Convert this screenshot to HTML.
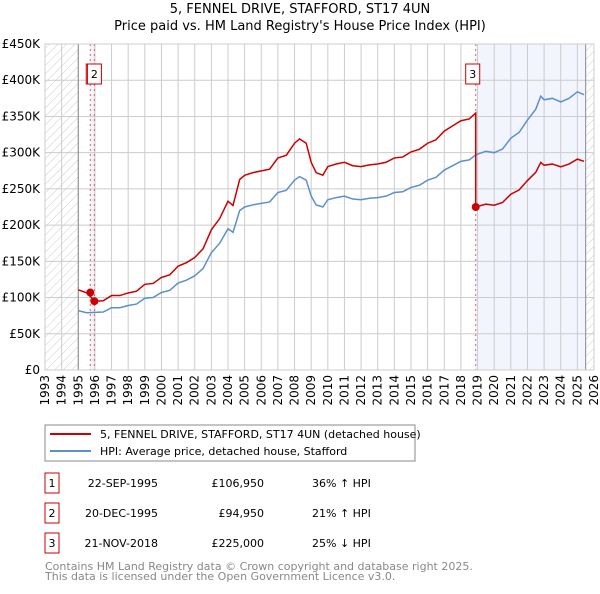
<!DOCTYPE html>
<html><head><meta charset="utf-8"><style>
body{margin:0;background:#fff;font-family:"DejaVu Sans","Liberation Sans",sans-serif;}
svg text{font-family:"DejaVu Sans","Liberation Sans",sans-serif;}
</style></head><body>
<svg id="c" width="600" height="590" xmlns="http://www.w3.org/2000/svg">
<defs><pattern id="h" width="6" height="6" patternUnits="userSpaceOnUse" patternTransform="rotate(45)"><line x1="0" y1="0" x2="0" y2="6" stroke="#ccc" stroke-width="1"/></pattern></defs>
<text x="300" y="13" text-anchor="middle" font-size="13">5, FENNEL DRIVE, STAFFORD, ST17 4UN</text>
<text x="300" y="30" text-anchor="middle" font-size="13">Price paid vs. HM Land Registry's House Price Index (HPI)</text>
<g id="plot"></g>
<rect x="45" y="425" width="370" height="36" fill="#fff" stroke="#888"/>
<line x1="50" y1="434" x2="91" y2="434" stroke="#cc0000" stroke-width="2"/>
<text x="100" y="438" font-size="11">5, FENNEL DRIVE, STAFFORD, ST17 4UN (detached house)</text>
<line x1="50" y1="451" x2="91" y2="451" stroke="#5b8fd0" stroke-width="2"/>
<text x="100" y="455" font-size="11">HPI: Average price, detached house, Stafford</text>
<g font-size="11" id="tbl"></g>
<text x="45" y="570" font-size="11" fill="#888">Contains HM Land Registry data © Crown copyright and database right 2025.</text>
<text x="45" y="580" font-size="11" fill="#888">This data is licensed under the Open Government Licence v3.0.</text>
</svg>
<script>
const hpiYears=[1995,1995.5,1996,1996.5,1997,1997.5,1998,1998.5,1999,1999.5,2000,2000.5,2001,2001.5,2002,2002.5,2003,2003.5,2004,2004.3,2004.7,2005,2005.5,2006,2006.5,2007,2007.5,2008,2008.3,2008.7,2009,2009.3,2009.7,2010,2010.5,2011,2011.5,2012,2012.5,2013,2013.5,2014,2014.5,2015,2015.5,2016,2016.5,2017,2017.5,2018,2018.5,2018.9,2019.5,2020,2020.5,2021,2021.5,2022,2022.5,2022.8,2023,2023.5,2024,2024.5,2025,2025.4];
const hpiValues=[82000,79000,79500,80000,86000,86000,89000,91000,99000,100000,107000,110000,120000,124000,130000,140000,162000,175000,195000,190000,220000,225000,228000,230000,232000,245000,248000,262000,267000,262000,240000,228000,225000,235000,238000,240000,236000,235000,237000,238000,240000,245000,246000,252000,255000,262000,266000,276000,282000,288000,290000,297000,302000,300000,305000,320000,328000,345000,360000,378000,373000,375000,370000,375000,384000,380000];
const saleDates=[1995.72,1995.97,2018.89];
const salePrices=[106950,94950,225000];
const saleLabels=["1","2","3"];
const saleDateText=["22-SEP-1995","20-DEC-1995","21-NOV-2018"];
const salePriceText=["£106,950","£94,950","£225,000"];
const saleHpiText=["36% ↑ HPI","21% ↑ HPI","25% ↓ HPI"];
const yTicks=[0,50000,100000,150000,200000,250000,300000,350000,400000,450000];
const yTickLabels=["£0","£50K","£100K","£150K","£200K","£250K","£300K","£350K","£400K","£450K"];
const xTicks=[1993,1994,1995,1996,1997,1998,1999,2000,2001,2002,2003,2004,2005,2006,2007,2008,2009,2010,2011,2012,2013,2014,2015,2016,2017,2018,2019,2020,2021,2022,2023,2024,2025,2026];

const X0=45,X1=594,Y0=370,Y1=44;
const xs=y=>X0+(y-1993)/(2026-1993)*(X1-X0);
const ys=v=>Y0-v/450000*(Y0-Y1);
const NS="http://www.w3.org/2000/svg";
const plot=document.getElementById('plot');
function mk(tag,attrs,parent){const e=document.createElementNS(NS,tag);for(const k in attrs)e.setAttribute(k,attrs[k]);(parent||plot).appendChild(e);return e;}
function hpiAt(t){if(t<=hpiYears[0])return hpiValues[0];for(let i=1;i<hpiYears.length;i++){if(t<=hpiYears[i]){const f=(t-hpiYears[i-1])/(hpiYears[i]-hpiYears[i-1]);return hpiValues[i-1]+f*(hpiValues[i]-hpiValues[i-1]);}}return hpiValues[hpiValues.length-1];}

// shaded regions
let e;
e=mk('rect',{x:xs(saleDates[0]),y:Y1,width:xs(saleDates[1])-xs(saleDates[0]),height:Y0-Y1,fill:'#eef3fc'});


e=mk('rect',{x:xs(saleDates[2]),y:Y1,width:xs(2025.5)-xs(saleDates[2]),height:Y0-Y1,fill:'#f2f5fd'});


// grid
yTicks.forEach((v,i)=>{
  e=mk('line',{x1:X0,x2:X1,y1:ys(v),y2:ys(v),stroke:'#ccc'});
  
  
  e=mk('text',{x:X0-5,y:ys(v)+4,'text-anchor':'end','font-size':'12'});e.textContent=yTickLabels[i];
  
  
});
xTicks.forEach(t=>{
  e=mk('line',{x1:xs(t),x2:xs(t),y1:Y1,y2:Y0,stroke:'#ccc'});
  
  
  e=mk('text',{x:0,y:0,'font-size':'12','text-anchor':'end',transform:`translate(${xs(t)+4},${Y0+5}) rotate(-90)`});e.textContent=t;
  
  
});
// hatches
e=mk('rect',{x:X0,y:Y1,width:xs(1995)-X0,height:Y0-Y1,fill:'url(#h)'});


e=mk('line',{x1:xs(1995),x2:xs(1995),y1:Y1,y2:Y0,stroke:'#888'});


e=mk('rect',{x:xs(2025.5),y:Y1,width:X1-xs(2025.5),height:Y0-Y1,fill:'url(#h)'});


e=mk('line',{x1:xs(2025.5),x2:xs(2025.5),y1:Y1,y2:Y0,stroke:'#888'});


// sale vertical lines
saleDates.forEach(d=>{
  e=mk('line',{x1:xs(d),x2:xs(d),y1:Y1,y2:Y0,stroke:'#e06060','stroke-dasharray':'2,3'});
  
  
});
// HPI line
e=mk('polyline',{points:hpiYears.map((t,i)=>xs(t)+','+ys(hpiValues[i])).join(' '),fill:'none',stroke:'#5b8fd0','stroke-width':1.5});


// property line: each sale price indexed by HPI until next sale
let pts=[];
for(let i=0;i<hpiYears.length;i++){
  const t=hpiYears[i];
  let k=0;for(let j=0;j<saleDates.length;j++)if(t>=saleDates[j])k=j;
  if(i>0&&hpiYears[i-1]<saleDates[2]&&t>=saleDates[2]){
    const r1=salePrices[1]/hpiAt(saleDates[1]);
    pts.push([saleDates[2],hpiAt(saleDates[2])*r1]);
    pts.push([saleDates[2],salePrices[2]]);
  }
  const r=salePrices[k]/hpiAt(saleDates[k]);
  pts.push([t,hpiValues[i]*r]);
}
e=mk('polyline',{points:pts.map(p=>xs(p[0])+','+ys(p[1])).join(' '),fill:'none',stroke:'#cc0000','stroke-width':1.5});


saleDates.forEach((d,i)=>{
  e=mk('circle',{cx:xs(d),cy:ys(salePrices[i]),r:4,fill:'#cc0000'});
  
  
});
// label boxes
[[0,xs(saleDates[0])-4],[1,xs(saleDates[1])-7],[2,xs(saleDates[2])-10]].forEach(([i,bx])=>{
  e=mk('rect',{x:bx,y:64,width:14,height:20,fill:'#fff',stroke:'#cc0000'});
  
  
  e=mk('text',{x:bx+7,y:78,'text-anchor':'middle','font-size':'11'});e.textContent=saleLabels[i];
  
  
});
e=mk('rect',{x:X0,y:Y1,width:X1-X0,height:Y0-Y1,fill:'none',stroke:'#ccc'});


// table
const tbl=document.getElementById('tbl');
saleLabels.forEach((l,i)=>{
  const cy=483+i*30;
  e=mk('rect',{x:45,y:cy-10,width:14,height:20,fill:'#fff',stroke:'#cc0000'},tbl);
  
  
  e=mk('text',{x:52,y:cy+4,'text-anchor':'middle'},tbl);e.textContent=l;
  
  
  e=mk('text',{x:158,y:cy+4,'text-anchor':'end'},tbl);e.textContent=saleDateText[i];
  
  
  e=mk('text',{x:264,y:cy+4,'text-anchor':'end'},tbl);e.textContent=salePriceText[i];
  
  
  e=mk('text',{x:312,y:cy+4},tbl);e.textContent=saleHpiText[i];
  
  
});
</script>
</body></html>
